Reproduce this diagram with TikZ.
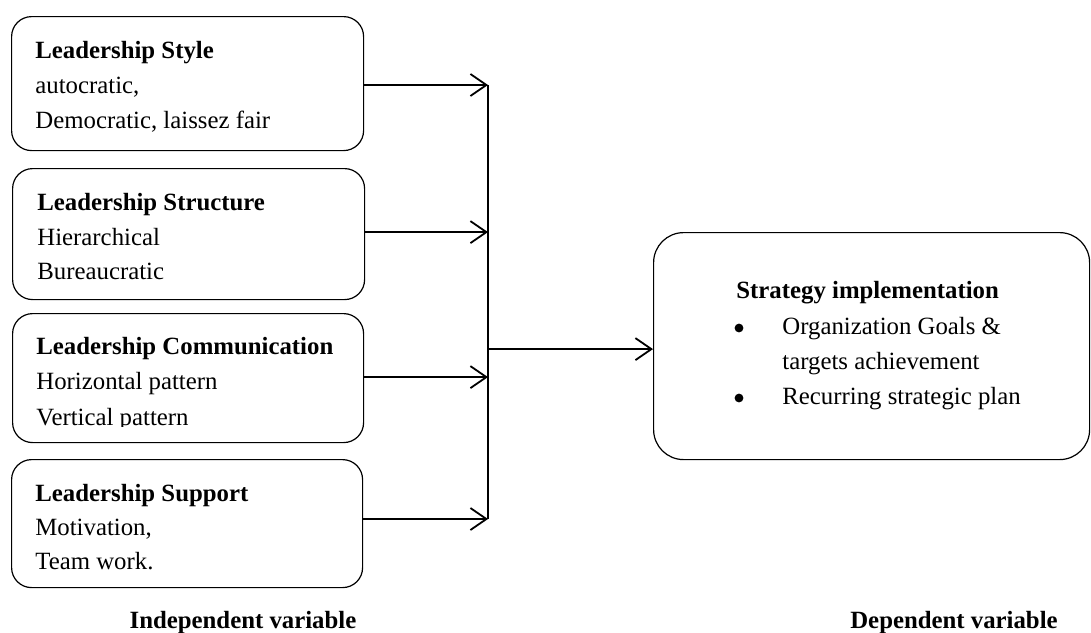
\documentclass[tikz,border=0pt]{standalone}
\usepackage{fontspec}
\setmainfont{Liberation Serif}
\usetikzlibrary{arrows.meta}
\tikzset{
  box/.style={draw, line width=0.6pt, rounded corners=10pt, anchor=north west, inner sep=0pt},
  txt/.style={anchor=base west, inner sep=0pt, font=\fontsize{12.4}{15}\selectfont},
  hd/.style={txt, font=\fontsize{12.4}{15}\selectfont\bfseries},
  arr/.style={line width=0.9pt, -{Straight Barb[length=8pt,width=11pt,line width=0.9pt]}},
  bus/.style={line width=0.7pt},
  dot/.style={circle, fill, inner sep=0pt, minimum size=4.4pt}
}
\begin{document}
\begin{tikzpicture}[x=0.5pt,y=-0.5pt]
\useasboundingbox (0,0) rectangle (1091,632);
% left boxes
\node[box, minimum width=176pt, minimum height=67pt] (b1) at (11,16) {};
\node[box, minimum width=176pt, minimum height=65.5pt] (b2) at (12,168) {};
\node[box, minimum width=175.5pt, minimum height=64.5pt] (b3) at (12,313) {};
\node[box, minimum width=175.5pt, minimum height=64pt] (b4) at (11,459) {};
% right box
\node[box, rounded corners=15pt, minimum width=218pt, minimum height=113.5pt] (r) at (653,232) {};
% texts box 1
\node[hd] (t1a) at (35,58) {Leadership Style};
\node[txt] (t1b) at (35,93) {autocratic,};
\node[txt] (t1c) at (35,128) {Democratic, laissez fair};
% box 2
\node[hd] (t2a) at (37,210) {Leadership Structure};
\node[txt] (t2b) at (37,245) {Hierarchical};
\node[txt] (t2c) at (37,279.5) {Bureaucratic};
% box 3
\node[hd] (t3a) at (36,354.5) {Leadership Communication};
\node[txt] (t3b) at (36,389.5) {Horizontal pattern};
\begin{scope}
\clip (0,300) rectangle (400,426);
\node[txt] (t3c) at (36,425) {Vertical pattern};
\end{scope}
% box 4
\node[hd] (t4a) at (35,501) {Leadership Support};
\node[txt] (t4b) at (35,535) {Motivation,};
\begin{scope}
\clip (0,540) rectangle (400,570.5);
\node[txt] (t4c) at (35,569.5) {Team work.};
\end{scope}
% right box text
\node[hd] (ra) at (736,298) {Strategy implementation};
\node[dot] (d1) at (739,328) {};
\node[txt] (rb) at (782,334) {Organization Goals \&};
\node[txt] (rc) at (782,369) {targets achievement};
\node[dot] (d2) at (739,398) {};
\node[txt] (rd) at (782,404) {Recurring strategic plan};
% labels
\node[hd, anchor=base] (li) at (243,628) {Independent variable};
\node[hd, anchor=base] (ld) at (954,628) {Dependent variable};
% connectors
\coordinate (bx) at (488,0);
\coordinate (p1) at (488,85);
\coordinate (p4) at (488,519);
\draw[bus] (p1) -- (p4);
\draw[arr] (b1.east |- p1) -- (p1);
\draw[arr] ([yshift=1pt]b2.east) -- ([yshift=1pt]b2.east -| bx);
\draw[arr] ([yshift=0.5pt]b3.east) -- ([yshift=0.5pt]b3.east -| bx);
\draw[arr] (b4.east |- p4) -- (p4);
\draw[arr] ([yshift=-1.5pt]r.west -| bx) -- ([yshift=-1.5pt]r.west);
\end{tikzpicture}
\end{document}
